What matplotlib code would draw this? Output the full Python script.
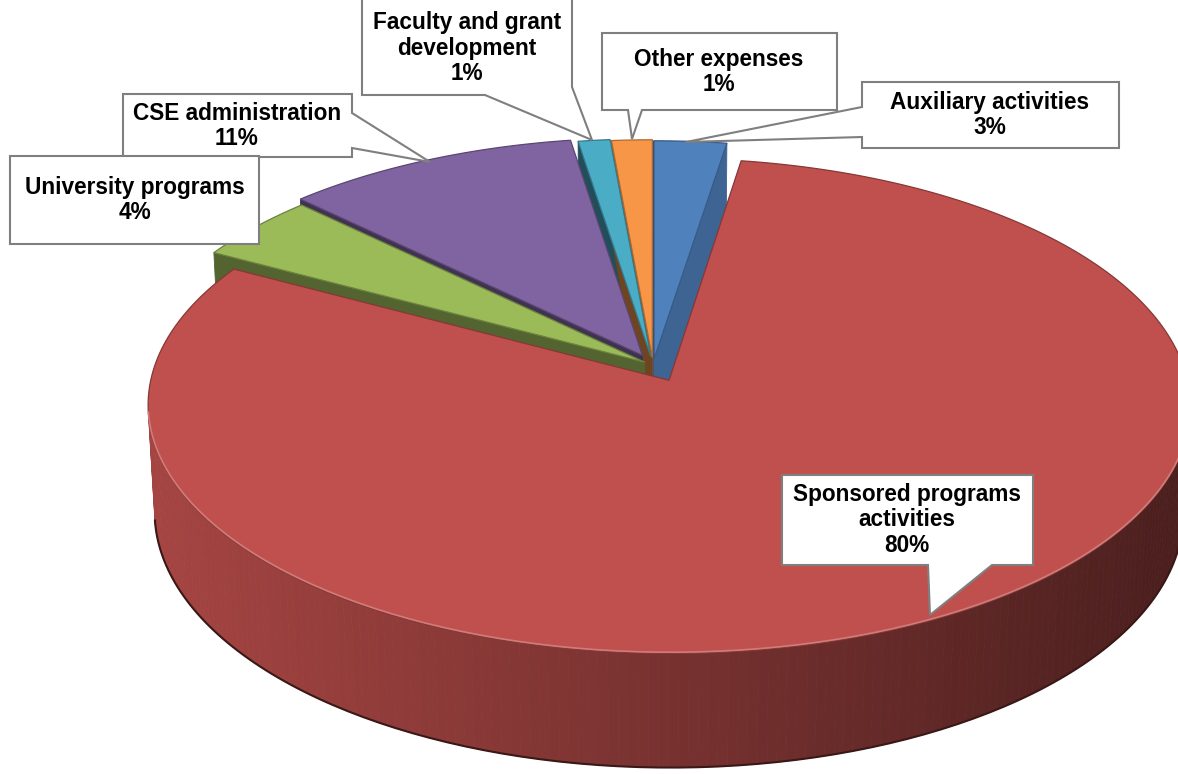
"""
3D pie of CSE expenses, drawn by hand with a small perspective projection
"""

import numpy as np
import matplotlib.pyplot as plt
import matplotlib.colors as mcolors
from matplotlib.collections import PolyCollection
from matplotlib.patches import Polygon

labels = ['Auxiliary activities\n3%',
          'Sponsored programs\nactivities\n80%',
          'University programs\n4%',
          'CSE administration\n11%',
          'Faculty and grant\ndevelopment\n1%',
          'Other expenses\n1%']
# shares (labels are rounded)
values = [2.5, 80.4, 4.4, 10.2, 1.1, 1.4]
colors = ['#4F81BD', '#C0504D', '#9BBB59', '#8064A2', '#4BACC6', '#F79646']
explode = [0.025, 0.07, 0.02, 0.045, 0.035, 0.03]

W, H = 1178, 774
fig = plt.figure(figsize=(W / 100, H / 100), dpi=100)
ax = fig.add_axes([0, 0, 1, 1])
ax.set_xlim(0, W)
ax.set_ylim(H, 0)
ax.axis('off')

# camera / projection
cx, cy = 653, 365
S = 515
elev = np.radians(28)
ce, se = np.cos(elev), np.sin(elev)
D = 8.6
h = 0.235
cam = np.array([0.0, -D * ce, D * se])


def project(X, Y, Z):
    t = -Y * ce + Z * se
    f = D / (D - t)
    u = X * f
    v = (Y * se + Z * ce) * f
    return cx + S * u, cy - S * v, t


def shade(c, k):
    return tuple(np.clip(np.array(mcolors.to_rgb(c)) * k, 0, 1))


def lighten(c, k):
    rgb = np.array(mcolors.to_rgb(c))
    return tuple(rgb + (1 - rgb) * k)


def side_k(x):
    return np.clip(0.86 - 0.47 * (x - 150) / 1028, 0.36, 0.9)


fr = np.array(values, float) / np.sum(values)
edges = np.concatenate([[0], np.cumsum(fr)]) * 2 * np.pi

side_polys, side_cols, side_depth = [], [], []
tops = []
rims = []
fronts = []

for i in range(len(values)):
    a0, a1 = edges[i], edges[i + 1]
    am = (a0 + a1) / 2
    ox, oy = explode[i] * np.sin(am), explode[i] * np.cos(am)
    n = max(int(np.degrees(a1 - a0)), 2) + 1
    th = np.linspace(a0, a1, n)
    rx, ry = ox + np.sin(th), oy + np.cos(th)

    # top face
    xt, yt, _ = project(np.r_[ox, rx], np.r_[oy, ry], 0 * np.r_[ox, rx])
    tops.append((np.c_[xt, yt], colors[i]))

    # outer wall, one strip per step
    xa, ya, ta = project(rx, ry, 0 * rx)
    xb, yb, tb = project(rx, ry, 0 * rx - h)
    vis = []
    for j in range(n - 1):
        tm = (th[j] + th[j + 1]) / 2
        nrm = np.array([np.sin(tm), np.cos(tm), 0])
        p = np.array([ox + np.sin(tm), oy + np.cos(tm), -h / 2])
        if nrm @ (cam - p) <= 0:
            continue
        vis += [j, j + 1]
        quad = [(xa[j], ya[j]), (xa[j + 1], ya[j + 1]),
                (xb[j + 1], yb[j + 1]), (xb[j], yb[j])]
        side_polys.append(quad)
        side_cols.append(shade(colors[i], side_k((xa[j] + xa[j + 1]) / 2)))
        side_depth.append((ta[j] + tb[j]) / 2)
    if vis:
        idx = sorted(set(vis))
        rims.append((xb[idx], yb[idx], shade(colors[i], 0.3)))
        fronts.append((xa[idx], ya[idx], lighten(colors[i], 0.25)))

    # radial cut faces
    for ang, nrm in [(a0, np.array([-np.cos(a0), np.sin(a0), 0])),
                     (a1, np.array([np.cos(a1), -np.sin(a1), 0]))]:
        p = np.array([ox + 0.5 * np.sin(ang), oy + 0.5 * np.cos(ang), -h / 2])
        if nrm @ (cam - p) <= 0:
            continue
        X = np.array([ox, ox + np.sin(ang), ox + np.sin(ang), ox])
        Y = np.array([oy, oy + np.cos(ang), oy + np.cos(ang), oy])
        Z = np.array([0, 0, -h, -h])
        xf, yf, tf = project(X, Y, Z)
        k = 0.45 + 0.33 * (nrm[0] + 1) / 2
        side_polys.append(list(zip(xf, yf)))
        side_cols.append(shade(colors[i], k))
        side_depth.append(tf.mean())

order = np.argsort(side_depth)
pc = PolyCollection([side_polys[o] for o in order],
                    facecolors=[side_cols[o] for o in order],
                    edgecolors=[side_cols[o] for o in order],
                    linewidths=0.6, zorder=2)
ax.add_collection(pc)
for xr, yr, c in rims:
    ax.plot(xr, yr, color=c, lw=1.5, zorder=2.5, solid_capstyle='round')

for pts, c in tops:
    ax.add_patch(Polygon(pts, closed=True, facecolor=c,
                         edgecolor=shade(c, 0.7), linewidth=0.9, zorder=3))
# soft highlight where the top meets the front wall
for xr, yr, c in fronts:
    ax.plot(xr, yr - 1.2, color=c, lw=1.2, zorder=3.5)

# callouts (box outline with pointer), pixel coordinates
callouts = [
    ([(362, -2), (572, -2), (572, 87), (592, 140), (485, 95), (362, 95)],
     (467, 48), labels[4]),
    ([(602, 33), (837, 33), (837, 110), (642, 110), (632, 139), (628, 110), (602, 110)],
     (719, 72), labels[5]),
    ([(862, 82), (1119, 82), (1119, 148), (862, 148), (862, 137), (686, 142), (862, 107)],
     (990, 115), labels[0]),
    ([(123, 94), (352, 94), (352, 113), (430, 162), (352, 148), (352, 157), (123, 157)],
     (237, 126), labels[3]),
    ([(10, 156), (259, 156), (259, 244), (10, 244)],
     (135, 200), labels[2]),
    ([(782, 475), (1033, 475), (1033, 565), (992, 565), (930, 615), (928, 565), (782, 565)],
     (907, 520), labels[1]),
]

for pts, (tx, ty), txt in callouts:
    ax.add_patch(Polygon(pts, closed=True, facecolor='white',
                         edgecolor='#7f7f7f', linewidth=1.5, zorder=5))
    ax.text(tx, ty, txt, ha='center', va='center', fontsize=16.3,
            fontweight='bold', family='Liberation Sans', color='black',
            linespacing=1.12, zorder=6)

fig.savefig('out.png', dpi=100)
